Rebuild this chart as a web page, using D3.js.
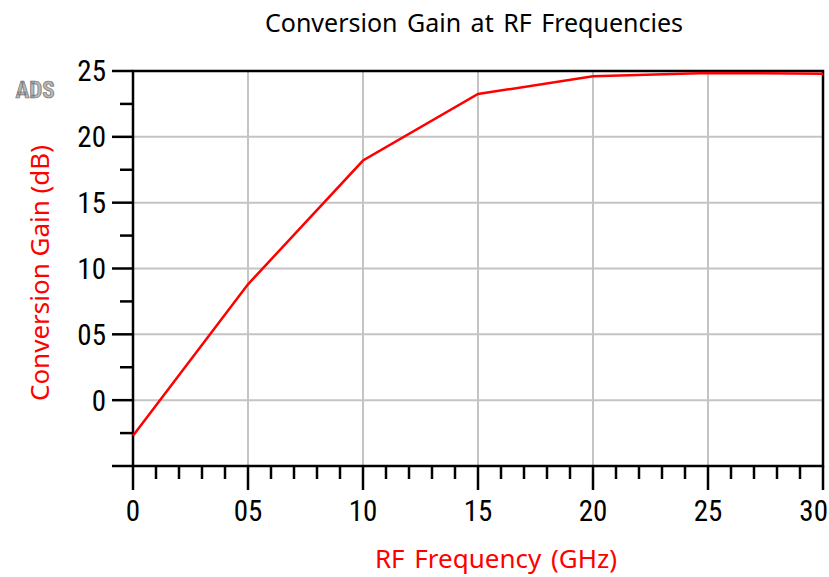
<!DOCTYPE html>
<html>
  <head>
    <meta charset="utf-8">
    <title>Conversion Gain at RF Frequencies</title>
    <script src="https://d3js.org/d3.v7.min.js"></script>
    <style>
      body { margin: 0; background: #fff; }
      svg text { font-family: "Noto Sans", sans-serif; }
      svg text.num { font-family: "Liberation Sans Narrow", "Roboto Condensed", "DejaVu Sans Condensed", sans-serif; }
    </style>
  </head>
  <body>
    <svg id="chart" width="829" height="577"></svg>
    <script>
      // values
      var freqs = [0, 5, 10, 15, 20, 25, 30];
      var gains = [-2.7, 8.8, 18.2, 23.25, 24.6, 24.85, 24.8];
      var xTicks = [0, 5, 10, 15, 20, 25, 30];
      var xTickLabels = ["0", "05", "10", "15", "20", "25", "30"];
      var yTicks = [0, 5, 10, 15, 20, 25];
      var yTickLabels = ["0", "05", "10", "15", "20", "25"];

      var svg = d3.select("#chart");
      var margin = { top: 71, right: 6, bottom: 111, left: 133 };
      var width = 829, height = 577;

      var x = d3.scaleLinear().domain([0, 30]).range([margin.left, width - margin.right]);
      var y = d3.scaleLinear().domain([-5, 25]).range([height - margin.bottom, margin.top]);

      // grid
      svg.append("g").selectAll("line")
        .data(xTicks.slice(1, -1))
        .join("line")
          .attr("x1", function(d) { return x(d); })
          .attr("x2", function(d) { return x(d); })
          .attr("y1", y(25)).attr("y2", y(-5))
          .attr("stroke", "#c4c4c4").attr("stroke-width", 2);
      svg.append("g").selectAll("line")
        .data(yTicks.slice(0, -1))
        .join("line")
          .attr("y1", function(d) { return y(d); })
          .attr("y2", function(d) { return y(d); })
          .attr("x1", x(0)).attr("x2", x(30))
          .attr("stroke", "#c4c4c4").attr("stroke-width", 2);

      // minor ticks
      var xMinor = d3.range(0, 31).filter(function(d) { return d % 5 != 0; });
      var yMinor = d3.range(-2.5, 25, 5);
      svg.append("g").selectAll("line")
        .data(xMinor)
        .join("line")
          .attr("x1", function(d) { return x(d); })
          .attr("x2", function(d) { return x(d); })
          .attr("y1", y(-5)).attr("y2", y(-5) + 13)
          .attr("stroke", "#000").attr("stroke-width", 2.5);
      svg.append("g").selectAll("line")
        .data(yMinor)
        .join("line")
          .attr("y1", function(d) { return y(d); })
          .attr("y2", function(d) { return y(d); })
          .attr("x1", x(0) - 13).attr("x2", x(0))
          .attr("stroke", "#000").attr("stroke-width", 2.5);

      // major ticks
      svg.append("g").selectAll("line")
        .data(xTicks)
        .join("line")
          .attr("x1", function(d) { return x(d); })
          .attr("x2", function(d) { return x(d); })
          .attr("y1", y(-5)).attr("y2", y(-5) + 24)
          .attr("stroke", "#000").attr("stroke-width", 2.5);
      svg.append("g").selectAll("line")
        .data([-5].concat(yTicks))
        .join("line")
          .attr("y1", function(d) { return y(d); })
          .attr("y2", function(d) { return y(d); })
          .attr("x1", x(0) - 21).attr("x2", x(0))
          .attr("stroke", "#000").attr("stroke-width", 2.5);

      // frame
      svg.append("rect")
        .attr("x", x(0)).attr("y", y(25))
        .attr("width", x(30) - x(0)).attr("height", y(-5) - y(25))
        .attr("fill", "none").attr("stroke", "#000").attr("stroke-width", 2.5);

      // data line
      var line = d3.line()
        .x(function(d, i) { return x(freqs[i]); })
        .y(function(d) { return y(d); });
      svg.append("path")
        .attr("d", line(gains))
        .attr("fill", "none")
        .attr("stroke", "#ff0000")
        .attr("stroke-width", 2.5);

      // tick labels (last one pulled in so it stays on the page)
      svg.append("g").selectAll("text")
        .data(xTicks)
        .join("text")
          .attr("class", "num")
          .attr("x", function(d) { return x(d); })
          .attr("y", 521)
          .attr("text-anchor", "middle")
          .attr("font-size", 29)
          .text(function(d, i) { return xTickLabels[i]; })
          .each(function() {
            var w = this.getComputedTextLength();
            var cx = +this.getAttribute("x");
            if (cx + w / 2 > width - 1) this.setAttribute("x", width - 1 - w / 2);
          });
      svg.append("g").selectAll("text")
        .data(yTicks)
        .join("text")
          .attr("class", "num")
          .attr("x", 106)
          .attr("y", function(d) { return y(d); })
          .attr("dy", "0.36em")
          .attr("text-anchor", "end")
          .attr("font-size", 29)
          .text(function(d, i) { return yTickLabels[i]; });

      // titles
      svg.append("text")
        .attr("x", 474).attr("y", 32)
        .attr("text-anchor", "middle")
        .attr("font-size", 25)
        .attr("word-spacing", 3)
        .text("Conversion Gain at RF Frequencies");
      svg.append("text")
        .attr("x", 496).attr("y", 568)
        .attr("text-anchor", "middle")
        .attr("font-size", 26)
        .attr("word-spacing", 3)
        .attr("fill", "#ff0000")
        .text("RF Frequency (GHz)");
      svg.append("text")
        .attr("transform", "translate(49, 273) rotate(-90)")
        .attr("text-anchor", "middle")
        .attr("font-size", 26)
        .attr("fill", "#ff0000")
        .text("Conversion Gain (dB)");

      // ADS badge
      svg.append("text")
        .attr("class", "num")
        .attr("x", 35).attr("y", 98)
        .attr("text-anchor", "middle")
        .attr("font-size", 23)
        .attr("font-weight", "bold")
        .attr("fill", "#b8b8b8")
        .attr("stroke", "#6e6e6e")
        .attr("stroke-width", 0.7)
        .text("ADS");
    </script>
  </body>
</html>
